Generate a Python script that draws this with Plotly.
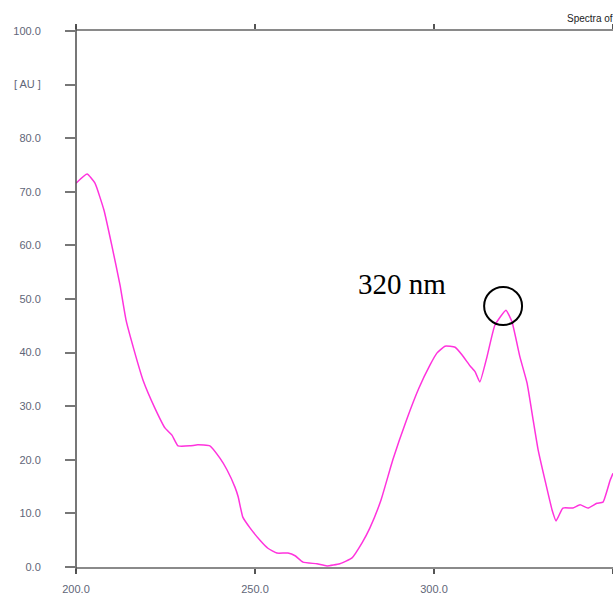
import plotly.graph_objects as go

# UV absorbance spectrum (wavelength in nm, absorbance in AU)
wavelength = [200.0, 203.1, 205.3, 207.8, 210.0, 212.3, 214.0, 216.2, 218.7, 222.0,
              224.9, 226.8, 228.5, 231.8, 234.0, 237.4, 240.2, 242.2, 244.4, 245.3,
              246.6, 248.6, 251.4, 253.6, 256.1, 259.2, 261.2, 263.4, 267.3, 270.1,
              273.7, 277.1, 279.9, 282.1, 285.2, 288.5, 292.3, 295.8, 298.9, 300.8,
              303.1, 305.9, 307.8, 310.1, 311.5, 312.8, 314.8, 317.0, 320.1, 321.8,
              324.0, 326.0, 327.7, 329.1, 331.0, 333.0, 334.1, 336.0, 338.8, 340.8,
              343.0, 345.5, 347.2, 349.2, 350.0]
absorbance = [71.6, 73.3, 71.6, 66.6, 60.0, 52.6, 46.0, 40.5, 34.9, 29.7,
              25.9, 24.6, 22.6, 22.6, 22.8, 22.6, 20.3, 18.1, 14.9, 13.1,
              9.3, 7.3, 5.0, 3.5, 2.6, 2.6, 2.1, 0.9, 0.6, 0.2,
              0.6, 1.7, 4.5, 7.3, 12.5, 20.0, 27.4, 33.4, 37.7, 39.9,
              41.2, 41.0, 39.6, 37.5, 36.4, 34.5, 39.2, 45.1, 47.9, 45.7,
              39.2, 34.3, 27.4, 21.8, 16.2, 10.6, 8.6, 11.0, 11.0, 11.6,
              11.0, 11.9, 12.1, 16.2, 17.5]

x_ticks = [200, 250, 300, 350]
x_labels = ["200.0", "250.0", "300.0", "350.0"]
y_ticks = [0, 10, 20, 30, 40, 50, 60, 70, 80, 90, 100]
y_labels = ["0.0", "10.0", "20.0", "30.0", "40.0", "50.0", "60.0", "70.0", "80.0", "[ AU ]", "100.0"]

peak_nm = 319.3
peak_au = 48.7

tick_font = dict(family="Liberation Sans, Arial, sans-serif", size=11, color="#5f6678")

fig = go.Figure()
fig.add_trace(go.Scatter(
    x=wavelength, y=absorbance, mode="lines",
    line=dict(color="#ff33dd", width=1.5, shape="spline", smoothing=0.4),
    hoverinfo="skip", showlegend=False,
))

# Marker circle around the 320 nm maximum
fig.add_shape(type="circle", xref="x", yref="y",
              x0=peak_nm - 5.3, x1=peak_nm + 5.3,
              y0=peak_au - 3.55, y1=peak_au + 3.55,
              line=dict(color="black", width=2))

fig.add_annotation(x=291.1, y=52.8, xref="x", yref="y", text="320 nm",
                   showarrow=False, xanchor="center", yanchor="middle",
                   font=dict(family="Liberation Serif, Times New Roman, serif", size=29, color="black"))

fig.add_annotation(x=0.9106, y=1.024, xref="paper", yref="paper", text="Spectra of",
                   showarrow=False, xanchor="left", yanchor="middle",
                   font=dict(family="Liberation Sans, Arial, sans-serif", size=10, color="#222222"))

# Dark left axis line that overhangs the frame slightly
fig.add_shape(type="line", xref="paper", yref="paper", x0=0, x1=0, y0=-0.008, y1=1.01,
              line=dict(color="#4a4a4a", width=1.5))

fig.update_layout(
    width=613, height=594,
    margin=dict(l=76, r=0, t=31, b=27),
    paper_bgcolor="white", plot_bgcolor="white",
    xaxis=dict(range=[200, 350], tickvals=x_ticks, ticktext=x_labels,
               showgrid=False, zeroline=False,
               showline=True, linecolor="#8a8a8a", linewidth=2, mirror="ticks",
               ticks="outside", ticklen=5, tickcolor="#555555", tickwidth=1.5,
               tickfont=tick_font, ticklabelstandoff=6),
    yaxis=dict(range=[0, 100], tickvals=y_ticks, ticktext=y_labels,
               showgrid=False, zeroline=False, showline=False,
               ticks="outside", ticklen=10, tickcolor="#777777", tickwidth=2,
               tickfont=tick_font, ticklabelstandoff=22),
)

fig.write_html("out.html")
